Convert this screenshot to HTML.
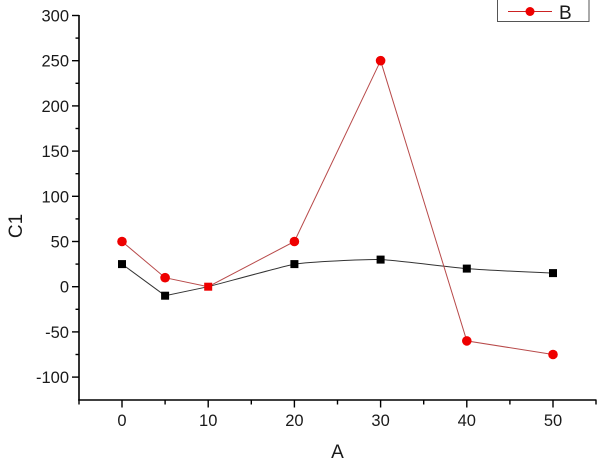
<!DOCTYPE html>
<html>
<head>
<meta charset="utf-8">
<style>
html,body{margin:0;padding:0;background:#fff;}
svg{display:block;}
text{font-family:"Liberation Sans",Arial,sans-serif;fill:#1a1a1a;}
</style>
</head>
<body>
<svg width="600" height="464" viewBox="0 0 600 464" xmlns="http://www.w3.org/2000/svg">
<rect width="600" height="464" fill="#fff"/>

<!-- Axes -->
<g stroke="#000" stroke-width="1.6" fill="none">
  <line x1="79" y1="15" x2="79" y2="400.5"/>
  <line x1="78.2" y1="400" x2="596.5" y2="400"/>
</g>

<!-- Y ticks -->
<g stroke="#000" stroke-width="1.4">
  <line x1="72" y1="15.5" x2="79" y2="15.5"/>
  <line x1="72" y1="60.7" x2="79" y2="60.7"/>
  <line x1="72" y1="105.9" x2="79" y2="105.9"/>
  <line x1="72" y1="151.1" x2="79" y2="151.1"/>
  <line x1="72" y1="196.3" x2="79" y2="196.3"/>
  <line x1="72" y1="241.5" x2="79" y2="241.5"/>
  <line x1="72" y1="286.7" x2="79" y2="286.7"/>
  <line x1="72" y1="331.9" x2="79" y2="331.9"/>
  <line x1="72" y1="377.1" x2="79" y2="377.1"/>
  <!-- minor -->
  <line x1="75.5" y1="38.1" x2="79" y2="38.1"/>
  <line x1="75.5" y1="83.3" x2="79" y2="83.3"/>
  <line x1="75.5" y1="128.5" x2="79" y2="128.5"/>
  <line x1="75.5" y1="173.7" x2="79" y2="173.7"/>
  <line x1="75.5" y1="218.9" x2="79" y2="218.9"/>
  <line x1="75.5" y1="264.1" x2="79" y2="264.1"/>
  <line x1="75.5" y1="309.3" x2="79" y2="309.3"/>
  <line x1="75.5" y1="354.5" x2="79" y2="354.5"/>
</g>

<!-- X ticks -->
<g stroke="#000" stroke-width="1.4">
  <line x1="122" y1="400" x2="122" y2="407.5"/>
  <line x1="208.2" y1="400" x2="208.2" y2="407.5"/>
  <line x1="294.4" y1="400" x2="294.4" y2="407.5"/>
  <line x1="380.6" y1="400" x2="380.6" y2="407.5"/>
  <line x1="466.8" y1="400" x2="466.8" y2="407.5"/>
  <line x1="553" y1="400" x2="553" y2="407.5"/>
  <!-- minor -->
  <line x1="79" y1="400" x2="79" y2="404.5"/>
  <line x1="165.1" y1="400" x2="165.1" y2="404.5"/>
  <line x1="251.3" y1="400" x2="251.3" y2="404.5"/>
  <line x1="337.5" y1="400" x2="337.5" y2="404.5"/>
  <line x1="423.7" y1="400" x2="423.7" y2="404.5"/>
  <line x1="509.9" y1="400" x2="509.9" y2="404.5"/>
  <line x1="596" y1="400" x2="596" y2="404.5"/>
</g>

<!-- Y tick labels -->
<g font-size="16.5" text-anchor="end">
  <text x="69" y="21.5">300</text>
  <text x="69" y="66.7">250</text>
  <text x="69" y="111.9">200</text>
  <text x="69" y="157.1">150</text>
  <text x="69" y="202.3">100</text>
  <text x="69" y="247.5">50</text>
  <text x="69" y="292.7">0</text>
  <text x="69" y="337.9">-50</text>
  <text x="69" y="383.1">-100</text>
</g>

<!-- X tick labels -->
<g font-size="16.5" text-anchor="middle">
  <text x="122" y="426">0</text>
  <text x="208.2" y="426">10</text>
  <text x="294.4" y="426">20</text>
  <text x="380.6" y="426">30</text>
  <text x="466.8" y="426">40</text>
  <text x="553" y="426">50</text>
</g>

<!-- Axis titles -->
<text x="337.5" y="458" font-size="19" text-anchor="middle">A</text>
<text transform="translate(22,226) rotate(-90)" font-size="19" text-anchor="middle">C1</text>

<!-- Black series (mild spline) -->
<path d="M122,264.1 L165.1,295.7 L208.2,286.7 C219,284 283,266.3 294.4,264.1 C309,261.8 366,259.2 380.6,259.6 C395,260 452,267.5 466.8,268.6 C481,269.7 539,272.5 553,273.1"
      fill="none" stroke="#333" stroke-width="1"/>

<!-- Red series -->
<polyline points="122,241.5 165.1,277.7 208.2,286.7 294.4,241.5 380.6,60.7 466.8,340.9 553,354.5"
          fill="none" stroke="#b84a4a" stroke-width="1"/>

<!-- Black markers -->
<g fill="#000">
  <rect x="118" y="260.1" width="8" height="8"/>
  <rect x="161.1" y="291.7" width="8" height="8"/>
  <rect x="290.4" y="260.1" width="8" height="8"/>
  <rect x="376.6" y="255.6" width="8" height="8"/>
  <rect x="462.8" y="264.6" width="8" height="8"/>
  <rect x="549" y="269.1" width="8" height="8"/>
</g>

<!-- Red markers -->
<g fill="#ee0000">
  <circle cx="122" cy="241.5" r="4.8"/>
  <circle cx="165.1" cy="277.7" r="4.8"/>
  <circle cx="294.4" cy="241.5" r="4.8"/>
  <circle cx="380.6" cy="60.7" r="4.8"/>
  <circle cx="466.8" cy="340.9" r="4.8"/>
  <circle cx="553" cy="354.5" r="4.8"/>
  <rect x="204.2" y="282.7" width="8" height="8"/>
</g>

<!-- Legend -->
<rect x="497.5" y="-3" width="91.5" height="24.5" fill="#fff" stroke="#555" stroke-width="1"/>
<line x1="508" y1="11.5" x2="552" y2="11.5" stroke="#cc2222" stroke-width="1"/>
<circle cx="530" cy="11.5" r="4.5" fill="#ee0000"/>
<text x="559" y="19" font-size="19">B</text>
</svg>
</body>
</html>
